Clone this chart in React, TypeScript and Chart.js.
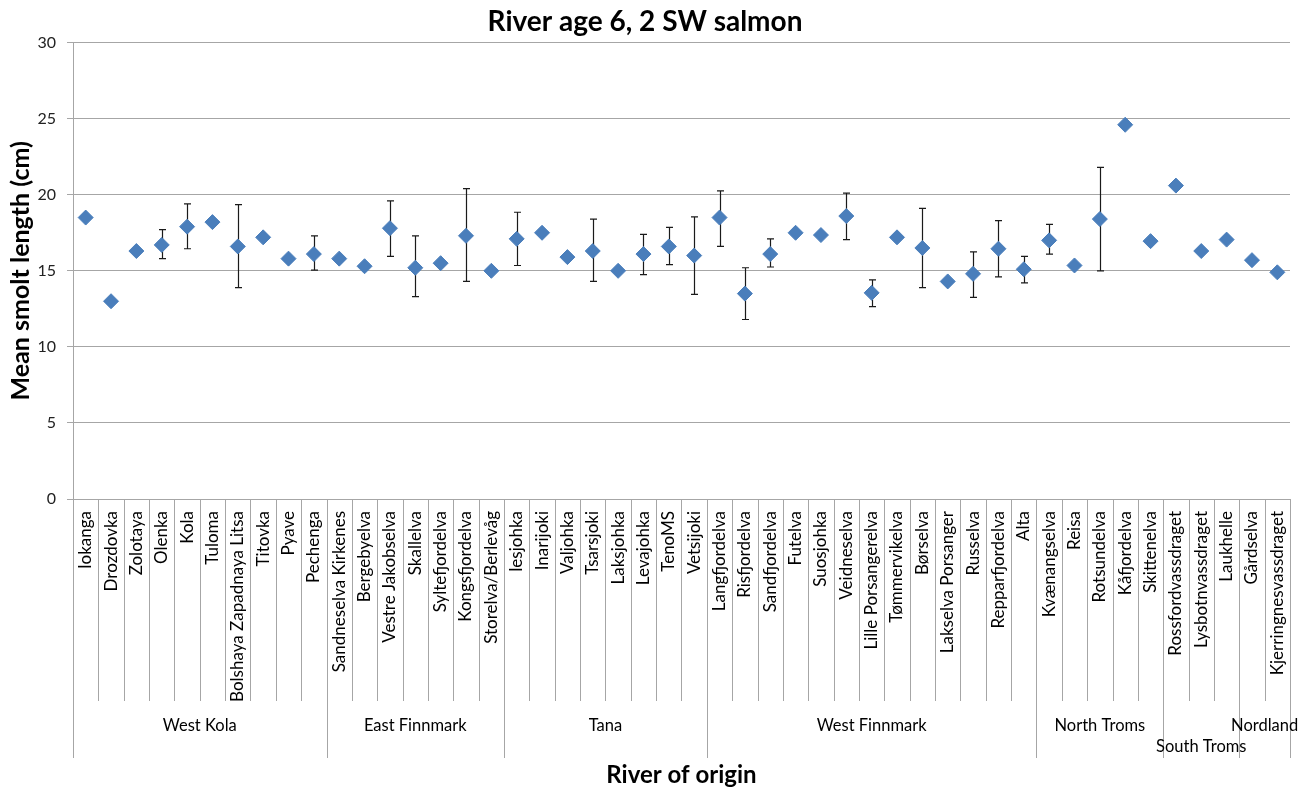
import React, { useEffect, useRef } from "react";
import { Chart, registerables } from "chart.js";

Chart.register(...registerables);

const TITLE = "River age 6, 2 SW salmon";
const Y_TITLE = "Mean smolt length (cm)";
const X_TITLE = "River of origin";

const rivers = [
  "Iokanga", "Drozdovka", "Zolotaya", "Olenka", "Kola", "Tuloma", "Bolshaya Zapadnaya Litsa", "Titovka", "Pyave", "Pechenga",
  "Sandneselva Kirkenes", "Bergebyelva", "Vestre Jakobselva", "Skallelva", "Syltefjordelva", "Kongsfjordelva", "Storelva/Berlevåg",
  "Iesjohka", "Inarijoki", "Valjohka", "Tsarsjoki", "Laksjohka", "Levajohka", "TenoMS", "Vetsijoki",
  "Langfjordelva", "Risfjordelva", "Sandfjordelva", "Futelva", "Suosjohka", "Veidneselva", "Lille Porsangerelva", "Tømmervikelva", "Børselva", "Lakselva Porsanger", "Russelva", "Repparfjordelva", "Alta",
  "Kvænangselva", "Reisa", "Rotsundelva", "Kåfjordelva", "Skittenelva",
  "Rossfordvassdraget", "Lysbotnvassdraget", "Laukhelle",
  "Gårdselva", "Kjerringnesvassdraget",
];

const groupNames = ["West Kola", "East Finnmark", "Tana", "West Finnmark", "North Troms", "South Troms", "Nordland"];
const groupSizes = [10, 7, 8, 13, 5, 3, 2];

const means = [
  18.5, 13.0, 16.3, 16.7, 17.9, 18.2, 16.6, 17.2, 15.8, 16.1,
  15.8, 15.3, 17.8, 15.2, 15.5, 17.3, 15.0,
  17.1, 17.5, 15.9, 16.3, 15.0, 16.1, 16.6, 16.0,
  18.5, 13.5, 16.1, 17.5, 17.35, 18.6, 13.55, 17.2, 16.5, 14.3, 14.8, 16.45, 15.1,
  17.0, 15.35, 18.4, 24.6, 16.95,
  20.6, 16.3, 17.05,
  15.7, 14.9,
];

const errUpper: (number | null)[] = [
  null, null, null, 17.7, 19.4, null, 19.35, null, null, 17.3,
  null, null, 19.6, 17.3, null, 20.4, null,
  18.85, null, null, 18.4, null, 17.4, 17.85, 18.55,
  20.25, 15.2, 17.1, null, null, 20.1, 14.4, null, 19.1, null, 16.25, 18.3, 15.95,
  18.05, null, 21.8, null, null,
  null, null, null,
  null, null,
];

const errLower: (number | null)[] = [
  null, null, null, 15.8, 16.45, null, 13.9, null, null, 15.05,
  null, null, 15.95, 13.3, null, 14.3, null,
  15.35, null, null, 14.3, null, 14.75, 15.4, 13.45,
  16.6, 11.8, 15.25, null, null, 17.05, 12.65, null, 13.9, null, 13.25, 14.6, 14.2,
  16.1, null, 15.0, null, null,
  null, null, null,
  null, null,
];

const FONT = "Lato, 'Open Sans', sans-serif";
const GRID = "#a6a6a6";

const errorBarPlugin = {
  id: "errorBars",
  beforeDatasetsDraw(chart: any) {
    const y = chart.scales.y;
    const meta = chart.getDatasetMeta(0);
    const ctx = chart.ctx;
    ctx.save();
    ctx.strokeStyle = "#1a1a1a";
    ctx.lineWidth = 1.2;
    meta.data.forEach((pt: any, i: number) => {
      const hi = errUpper[i];
      const lo = errLower[i];
      if (hi == null || lo == null) return;
      const px = Math.round(pt.x) + 0.5;
      const yh = y.getPixelForValue(hi);
      const yl = y.getPixelForValue(lo);
      ctx.beginPath();
      ctx.moveTo(px, yh);
      ctx.lineTo(px, yl);
      ctx.moveTo(px - 3.5, yh);
      ctx.lineTo(px + 3.5, yh);
      ctx.moveTo(px - 3.5, yl);
      ctx.lineTo(px + 3.5, yl);
      ctx.stroke();
    });
    ctx.restore();
  },
};

const multiAxisPlugin = {
  id: "multiAxis",
  afterDraw(chart: any, _args: any, opts: any) {
    const x = chart.scales.x;
    const ctx = chart.ctx;
    const base = chart.chartArea.bottom;
    const half = (x.getPixelForValue(1) - x.getPixelForValue(0)) / 2;
    const groupStarts = new Set<number>();
    let acc = 0;
    groupSizes.forEach((s) => {
      groupStarts.add(acc);
      acc += s;
    });
    groupStarts.add(rivers.length);

    ctx.save();
    ctx.strokeStyle = GRID;
    ctx.lineWidth = 1;
    for (let i = 0; i <= rivers.length; i++) {
      const bx = Math.round(x.getPixelForValue(i) - half) + 0.5;
      const len = groupStarts.has(i) ? opts.groupLineLen : opts.catLineLen;
      ctx.beginPath();
      ctx.moveTo(bx, base);
      ctx.lineTo(bx, base + len);
      ctx.stroke();
    }

    ctx.fillStyle = "#000";
    ctx.font = `17px ${FONT}`;
    ctx.textAlign = "right";
    ctx.textBaseline = "middle";
    rivers.forEach((name, i) => {
      const cx = x.getPixelForValue(i);
      ctx.save();
      ctx.translate(cx, base + opts.labelGap);
      ctx.rotate(-Math.PI / 2);
      ctx.fillText(name, 0, 0);
      ctx.restore();
    });

    ctx.font = `16.5px ${FONT}`;
    ctx.textAlign = "center";
    let start = 0;
    groupNames.forEach((g, gi) => {
      const end = start + groupSizes[gi] - 1;
      const cx = (x.getPixelForValue(start) + x.getPixelForValue(end)) / 2;
      const row = opts.groupRows[gi] || 0;
      ctx.fillText(g, cx, base + opts.groupLabelY + row * opts.groupRowGap);
      start = end + 1;
    });
    ctx.restore();
  },
};

export default function App() {
  const ref = useRef<HTMLCanvasElement | null>(null);

  useEffect(() => {
    if (!ref.current) return;
    const chart = new Chart(ref.current, {
      type: "line",
      data: {
        labels: rivers,
        datasets: [
          {
            label: "Mean smolt length",
            data: means,
            showLine: false,
            pointStyle: "rectRot",
            pointRadius: 7.5,
            pointHoverRadius: 7.5,
            backgroundColor: "#4a7ebb",
            borderColor: "#4a7ebb",
            pointBorderWidth: 1,
          },
        ],
      },
      options: {
        responsive: false,
        maintainAspectRatio: false,
        animation: false,
        devicePixelRatio: 1,
        layout: { padding: { left: 0, right: 21, top: 0, bottom: 0 } },
        plugins: {
          legend: { display: false },
          tooltip: { enabled: false },
          title: {
            display: true,
            text: TITLE,
            color: "#000",
            font: { family: FONT, size: 28, weight: "bold" },
            padding: { top: 5, bottom: 4 },
          },
          multiAxis: {
            catLineLen: 202,
            groupLineLen: 259,
            labelGap: 12,
            groupLabelY: 227,
            groupRowGap: 21,
            groupRows: [0, 0, 0, 0, 0, 1, 0],
          },
        } as any,
        scales: {
          x: {
            type: "category",
            offset: true,
            grid: { display: false },
            border: { display: false },
            ticks: { display: false },
            title: {
              display: true,
              text: X_TITLE,
              color: "#000",
              font: { family: FONT, size: 24, weight: "bold" },
              padding: { top: 0, bottom: 2 },
            },
            afterFit: (s: any) => {
              s.height = 293;
            },
          },
          y: {
            min: 0,
            max: 30,
            ticks: {
              stepSize: 5,
              color: "#222",
              font: { family: FONT, size: 16 },
              padding: 11,
            },
            grid: { color: GRID, tickLength: 6, lineWidth: 1 },
            border: { color: GRID },
            title: {
              display: true,
              text: Y_TITLE,
              color: "#000",
              font: { family: FONT, size: 25, weight: "bold" },
              padding: { top: 6, bottom: 0 },
            },
            afterFit: (s: any) => {
              s.width = 73;
            },
          },
        },
      },
      plugins: [errorBarPlugin, multiAxisPlugin],
    });
    return () => chart.destroy();
  }, []);

  return (
    <div style={{ position: "absolute", left: 0, top: 0, width: 1311, height: 792, background: "#fff" }}>
      <canvas ref={ref} width={1311} height={792} style={{ display: "block" }} />
    </div>
  );
}
